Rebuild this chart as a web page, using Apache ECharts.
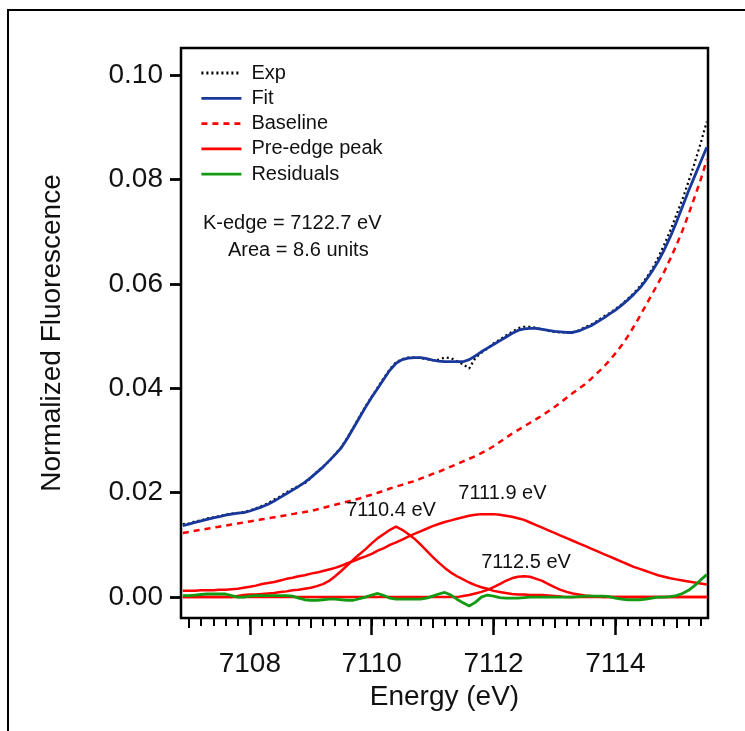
<!DOCTYPE html>
<html>
<head>
<meta charset="utf-8">
<title>Pre-edge fit</title>
<script src="https://cdn.jsdelivr.net/npm/echarts@6/dist/echarts.min.js"></script>
<style>
  html, body { margin: 0; padding: 0; background: #fff; }
  #chart { width: 745px; height: 731px; }
</style>
</head>
<body>
<div id="chart"></div>
<script>
// Energy grid (eV)
const energy = [
  7106.9, 7107.0, 7107.1, 7107.2, 7107.3, 7107.4, 7107.5, 7107.6, 7107.7, 7107.8,
  7107.9, 7108.0, 7108.1, 7108.2, 7108.3, 7108.4, 7108.5, 7108.6, 7108.7, 7108.8,
  7108.9, 7109.0, 7109.1, 7109.2, 7109.3, 7109.4, 7109.5, 7109.6, 7109.7, 7109.8,
  7109.9, 7110.0, 7110.1, 7110.2, 7110.3, 7110.4, 7110.5, 7110.6, 7110.7, 7110.8,
  7110.9, 7111.0, 7111.1, 7111.2, 7111.3, 7111.4, 7111.5, 7111.6, 7111.7, 7111.8,
  7111.9, 7112.0, 7112.1, 7112.2, 7112.3, 7112.4, 7112.5, 7112.6, 7112.7, 7112.8,
  7112.9, 7113.0, 7113.1, 7113.2, 7113.3, 7113.4, 7113.5, 7113.6, 7113.7, 7113.8,
  7113.9, 7114.0, 7114.1, 7114.2, 7114.3, 7114.4, 7114.5, 7114.6, 7114.7, 7114.8,
  7114.9, 7115.0, 7115.1, 7115.2, 7115.3, 7115.4, 7115.5
];

// Measured spectrum
const expData = [
  .0140, .0141, .0145, .0147, .0151, .0153, .0155, .0158, .0160, .0161,
  .0163, .0166, .0170, .0175, .0180, .0187, .0193, .0201, .0207, .0213,
  .0218, .0228, .0240, .0250, .0260, .0274, .0287, .0306, .0325, .0346,
  .0366, .0384, .0402, .0420, .0437, .0450, .0456, .0459, .0459, .0458,
  .0456, .0454, .0455, .0459, .0458, .0452, .0446, .0438, .0458, .0468,
  .0476, .0486, .0493, .0501, .0508, .0515, .0518, .0518, .0516, .0513,
  .0510, .0508, .0507, .0507, .0508, .0511, .0517, .0522, .0529, .0537,
  .0544, .0552, .0561, .0571, .0582, .0595, .0610, .0628, .0650, .0675,
  .0702, .0732, .0762, .0796, .0831, .0870, .0911
];

// Total fit
const fitData = [
  .0137, .0140, .0143, .0146, .0149, .0152, .0154, .0157, .0159, .0161,
  .0162, .0165, .0169, .0173, .0178, .0184, .0191, .0198, .0205, .0212,
  .0220, .0229, .0239, .0249, .0261, .0273, .0286, .0304, .0324, .0344,
  .0364, .0383, .0400, .0418, .0435, .0448, .0455, .0458, .0459, .0459,
  .0457, .0454, .0452, .0451, .0451, .0451, .0451, .0455, .0462, .0470,
  .0477, .0484, .0491, .0498, .0505, .0511, .0514, .0515, .0515, .0513,
  .0511, .0509, .0508, .0507, .0507, .0510, .0515, .0520, .0527, .0534,
  .0542, .0550, .0559, .0569, .0580, .0592, .0607, .0624, .0643, .0665,
  .0690, .0718, .0748, .0778, .0806, .0834, .0862
];

// Edge baseline
const baselineData = [
  .0123, .0125, .0127, .0129, .0131, .0133, .0135, .0137, .0139, .0141,
  .0143, .0145, .0147, .0149, .0151, .0153, .0155, .0157, .0159, .0161,
  .0163, .0165, .0168, .0171, .0174, .0177, .0180, .0183, .0186, .0189,
  .0193, .0196, .0200, .0204, .0208, .0212, .0215, .0219, .0222, .0227,
  .0231, .0236, .0240, .0245, .0250, .0255, .0260, .0265, .0270, .0276,
  .0282, .0289, .0297, .0305, .0313, .0320, .0327, .0334, .0341, .0348,
  .0356, .0364, .0373, .0382, .0391, .0399, .0408, .0418, .0429, .0440,
  .0453, .0467, .0482, .0499, .0518, .0538, .0559, .0580, .0601, .0623,
  .0648, .0674, .0702, .0733, .0766, .0800, .0838
];

// Pre-edge component centred at 7110.4 eV
const peak1Data = [
  0, 0, 0, 0, 0, 0, 0, 0, 0, .0002,
  .0004, .0005, .0005, .0006, .0007, .0008, .0010, .0011, .0013, .0014,
  .0016, .0018, .0021, .0025, .0031, .0040, .0050, .0061, .0072, .0082,
  .0092, .0103, .0113, .0121, .0129, .0135, .0129, .0121, .0112, .0101,
  .0089, .0077, .0066, .0056, .0047, .0040, .0034, .0028, .0023, .0019,
  .0016, .0012, .0010, .0008, .0006, .0005, .0005, .0004, .0004, .0004,
  .0003, .0002, .0001, 0, 0, 0, 0, 0, 0, 0,
  0, 0, 0, 0, 0, 0, 0, 0, 0, 0,
  0, 0, 0, 0, 0, 0, 0
];

// Pre-edge component centred at 7111.9 eV
const peak2Data = [
  .0012, .0012, .0012, .0013, .0013, .0013, .0014, .0014, .0015, .0016,
  .0018, .0020, .0022, .0025, .0027, .0029, .0032, .0035, .0037, .0040,
  .0042, .0045, .0047, .0050, .0053, .0056, .0060, .0065, .0069, .0074,
  .0078, .0083, .0089, .0094, .0100, .0105, .0110, .0116, .0121, .0126,
  .0131, .0136, .0140, .0144, .0147, .0150, .0153, .0156, .0158, .0159,
  .0159, .0159, .0158, .0156, .0154, .0151, .0148, .0143, .0138, .0133,
  .0128, .0123, .0118, .0113, .0108, .0103, .0098, .0093, .0088, .0083,
  .0078, .0073, .0068, .0063, .0058, .0054, .0050, .0046, .0042, .0039,
  .0036, .0034, .0032, .0030, .0028, .0026, .0024
];

// Pre-edge component centred at 7112.5 eV
const peak3Data = [
  0, 0, 0, 0, 0, 0, 0, 0, 0, 0,
  0, 0, 0, 0, 0, 0, 0, 0, 0, 0,
  0, 0, 0, 0, 0, 0, 0, 0, 0, 0,
  0, 0, 0, 0, 0, 0, 0, 0, 0, 0,
  0, 0, 0, 0, 0, 0, .0002, .0004, .0007, .0010,
  .0014, .0019, .0025, .0031, .0036, .0039, .0040, .0039, .0035, .0031,
  .0025, .0019, .0014, .0010, .0007, .0005, .0003, .0002, .0001, 0,
  0, 0, 0, 0, 0, 0, 0, 0, 0, 0,
  0, 0, 0, 0, 0, 0, 0
];

// Fit residuals
const residualData = [
  .0003, .0003, .0004, .0005, .0006, .0006, .0006, .0006, .0003, .0000,
  .0000, .0002, .0003, .0003, .0003, .0003, .0003, .0003, .0002, -.0002,
  -.0005, -.0006, -.0006, -.0005, -.0004, -.0004, -.0005, -.0006, -.0006, -.0003,
  .0000, .0004, .0007, .0003, -.0002, -.0004, -.0004, -.0004, -.0004, -.0004,
  -.0002, .0002, .0006, .0009, .0004, -.0004, -.0011, -.0017, -.0010, .0000,
  .0004, .0002, -.0001, -.0002, -.0002, -.0002, -.0001, .0000, .0000, .0000,
  .0000, .0000, .0000, .0000, .0000, .0001, .0002, .0002, .0002, .0002,
  .0001, -.0002, -.0004, -.0005, -.0005, -.0005, -.0004, -.0002, .0000, .0000,
  .0001, .0003, .0007, .0013, .0022, .0033, .0043
];

// Peak positions (eV)
const peakCentres = [7110.4, 7111.9, 7112.5];

// Fit summary
const kEdge = 7122.7;
const preEdgeArea = 8.6;

// Axis ticks
const yTicks = [0, 0.02, 0.04, 0.06, 0.08, 0.10];
const xMajorTicks = [7108, 7110, 7112, 7114];
const xMidTicks = [7107, 7109, 7111, 7113, 7115];
const xMinorTicks = [
  7107.0, 7107.2, 7107.4, 7107.6, 7107.8, 7108.0, 7108.2, 7108.4, 7108.6, 7108.8,
  7109.0, 7109.2, 7109.4, 7109.6, 7109.8, 7110.0, 7110.2, 7110.4, 7110.6, 7110.8,
  7111.0, 7111.2, 7111.4, 7111.6, 7111.8, 7112.0, 7112.2, 7112.4, 7112.6, 7112.8,
  7113.0, 7113.2, 7113.4, 7113.6, 7113.8, 7114.0, 7114.2, 7114.4, 7114.6, 7114.8,
  7115.0, 7115.2, 7115.4
];

const X_MIN = 7106.87, X_MAX = 7115.52;
const Y_MIN = -0.004, Y_MAX = 0.1052;

const FONT = '"Liberation Sans", Arial, Helvetica, sans-serif';
const RED = '#ff0000';
const BLUE = '#18389c';
const GREEN = '#129a12';

const pairs = arr => energy.map((e, i) => [e, arr[i]]);

function peakLabel(data, centre, offset) {
  const idx = energy.findIndex(e => Math.abs(e - centre) < 1e-6);
  return {
    symbol: 'circle',
    symbolSize: 1,
    itemStyle: { color: 'rgba(0,0,0,0)' },
    label: {
      show: true,
      position: 'inside',
      offset: offset,
      color: '#111',
      fontFamily: FONT,
      fontSize: 20,
      formatter: centre.toFixed(1) + ' eV'
    },
    data: [{ coord: [centre, data[idx]] }]
  };
}

function peakSeries(data, centre, offset) {
  return {
    name: 'Pre-edge peak',
    type: 'line',
    data: pairs(data),
    symbol: 'none',
    lineStyle: { color: RED, width: 2.5 },
    itemStyle: { color: RED },
    markPoint: peakLabel(data, centre, offset),
    z: 3
  };
}

const chart = echarts.init(document.getElementById('chart'), null, { renderer: 'canvas' });

// Extra bottom axes only carry tick marks
const tickOnlyAxis = (values, len) => ({
  type: 'value', min: X_MIN, max: X_MAX, position: 'bottom',
  axisLine: { show: false, onZero: false },
  axisLabel: { show: false },
  splitLine: { show: false },
  axisTick: { customValues: values, length: len, lineStyle: { color: '#000', width: 2 } }
});

chart.setOption({
  animation: false,
  backgroundColor: '#fff',
  grid: {
    left: 181, right: 37, top: 48, bottom: 113,
    show: true,
    borderColor: '#000',
    borderWidth: 2.5,
    backgroundColor: 'transparent'
  },
  legend: {
    data: ['Exp', 'Fit', 'Baseline', 'Pre-edge peak', 'Residuals'],
    orient: 'vertical',
    left: 200,
    top: 63,
    padding: 0,
    itemWidth: 40,
    itemHeight: 14,
    itemGap: 5.3,
    selectedMode: false,
    itemStyle: { opacity: 0 },
    lineStyle: { width: 2.8 },
    textStyle: { fontFamily: FONT, fontSize: 20, color: '#111', lineHeight: 20, padding: [0, 0, 0, 5] }
  },
  xAxis: [
    {
      type: 'value', min: X_MIN, max: X_MAX, position: 'bottom',
      axisLine: { show: false, onZero: false },
      splitLine: { show: false },
      axisTick: { customValues: xMajorTicks, length: 17, lineStyle: { color: '#000', width: 2.5 } },
      axisLabel: {
        customValues: xMajorTicks, margin: 32,
        formatter: v => String(v),
        fontFamily: FONT, fontSize: 28, color: '#111'
      },
      name: 'Energy (eV)',
      nameLocation: 'middle',
      nameGap: 62,
      nameTextStyle: { fontFamily: FONT, fontSize: 28, color: '#111' }
    },
    tickOnlyAxis(xMidTicks, 10),
    tickOnlyAxis(xMinorTicks, 8)
  ],
  yAxis: {
    type: 'value', min: Y_MIN, max: Y_MAX,
    axisLine: { show: false, onZero: false },
    splitLine: { show: false },
    axisTick: { customValues: yTicks, length: 11, lineStyle: { color: '#000', width: 2.8 } },
    axisLabel: {
      customValues: yTicks, margin: 18,
      formatter: v => v.toFixed(2),
      fontFamily: FONT, fontSize: 28, color: '#111'
    },
    name: 'Normalized Fluorescence',
    nameLocation: 'middle',
    nameGap: 115,
    nameTextStyle: { fontFamily: FONT, fontSize: 28, color: '#111' }
  },
  series: [
    {
      name: 'Exp', type: 'line', data: pairs(expData), symbol: 'none',
      lineStyle: { color: '#000', width: 2.2, type: [2, 3] },
      itemStyle: { color: '#000' }, z: 2
    },
    {
      name: 'Fit', type: 'line', data: pairs(fitData), symbol: 'none',
      lineStyle: { color: BLUE, width: 2.8 },
      itemStyle: { color: BLUE }, z: 3
    },
    {
      name: 'Baseline', type: 'line', data: pairs(baselineData), symbol: 'none',
      lineStyle: { color: RED, width: 2.5, type: [6, 5] },
      itemStyle: { color: RED }, z: 3
    },
    peakSeries(peak1Data, peakCentres[0], [-5, -16]),
    peakSeries(peak2Data, peakCentres[1], [15, -21]),
    peakSeries(peak3Data, peakCentres[2], [2, -14]),
    {
      name: 'Residuals', type: 'line', data: pairs(residualData), symbol: 'none',
      lineStyle: { color: GREEN, width: 2.8 },
      itemStyle: { color: GREEN }, z: 4
    }
  ],
  graphic: [
    {
      type: 'rect',
      shape: { x: 8, y: 10, width: 800, height: 800 },
      style: { fill: 'none', stroke: '#000', lineWidth: 2 },
      silent: true
    },
    {
      type: 'text', left: 203, top: 213,
      style: { text: 'K-edge = ' + kEdge.toFixed(1) + ' eV', font: '20px ' + FONT, fill: '#111' }
    },
    {
      type: 'text', left: 228, top: 240,
      style: { text: 'Area = ' + preEdgeArea.toFixed(1) + ' units', font: '20px ' + FONT, fill: '#111' }
    }
  ]
});
</script>
</body>
</html>
